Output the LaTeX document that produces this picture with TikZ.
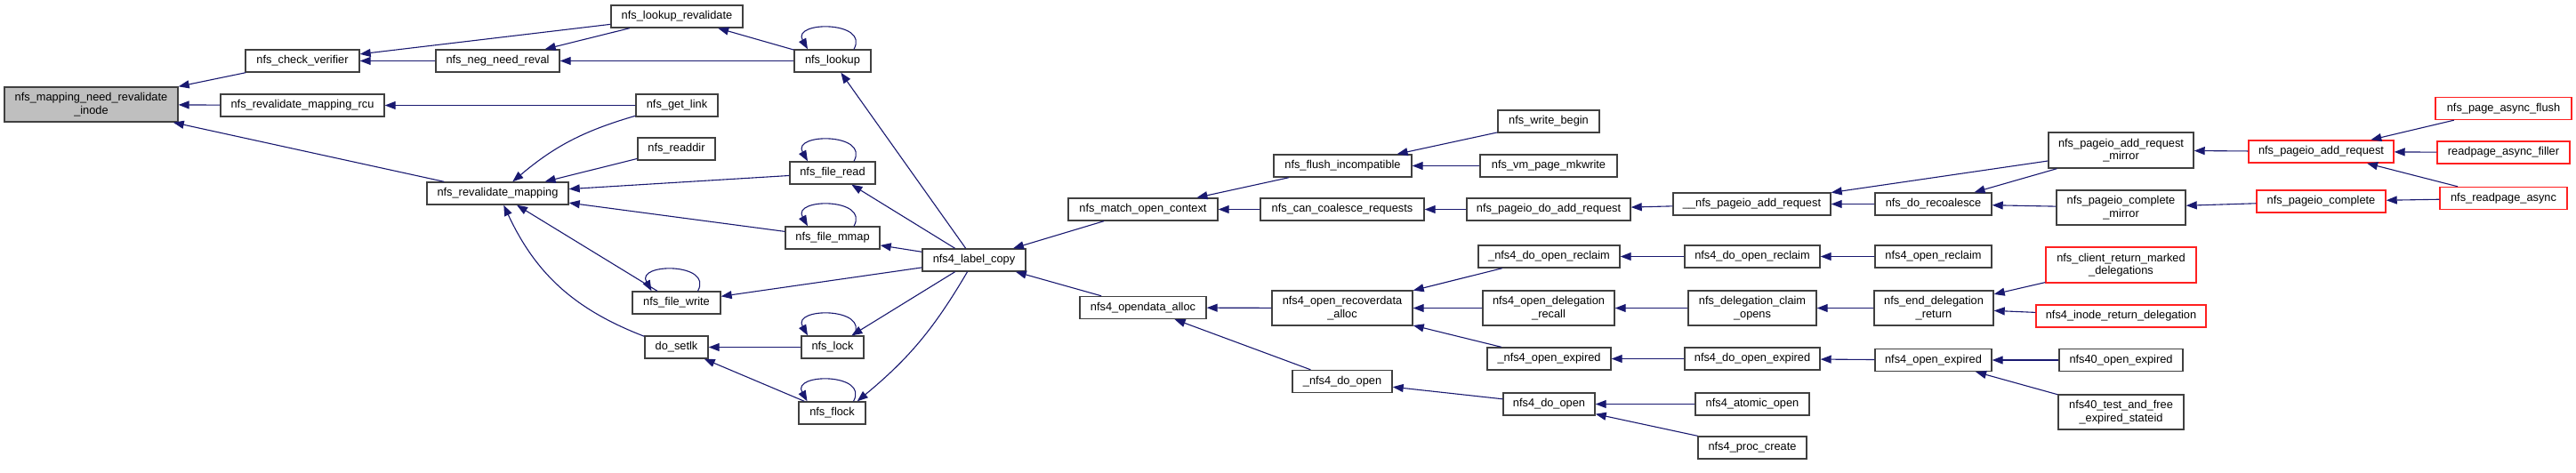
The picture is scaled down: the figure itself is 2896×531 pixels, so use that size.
\documentclass[tikz,border=0pt]{standalone}
\usepackage{fontspec}
\setmainfont{Liberation Sans}
\usetikzlibrary{arrows.meta}
\definecolor{bordgris}{HTML}{404040}
\definecolor{fleche}{HTML}{191970}
\definecolor{racine}{HTML}{BFBFBF}
\definecolor{rouge}{HTML}{FF2020}

\begin{document}
\begin{tikzpicture}[x=1pt, y=-1pt, >={Triangle[length=12pt,width=9pt]},
    fn/.style={draw=bordgris, line width=1.4pt, fill=white, inner sep=0pt,
      minimum height=25pt, align=center, font=\fontsize{12.8}{14.4}\selectfont},
    fn2/.style={fn, minimum height=39pt},
    fnr/.style={fn, draw=rouge},
    appel/.style={->, draw=fleche, line width=1.1pt}]
        \useasboundingbox (0,0) rectangle (2896,531);

        % -- Colonne 0 : la fonction appelée --
        \node[fn2, fill=racine, minimum width=195pt] (mni) at (102.5,117.5) {nfs\_mapping\_need\_revalidate\\\_inode};

        % -- Colonne 1 --
        \node[fn, minimum width=128pt] (ncv) at (340,68.5) {nfs\_check\_verifier};
        \node[fn, minimum width=184pt] (nrmr) at (340,118.5) {nfs\_revalidate\_mapping\_rcu};

        % -- Colonne 2 --
        \node[fn, minimum width=139pt] (nnr) at (559.5,68.5) {nfs\_neg\_need\_reval};
        \node[fn, minimum width=159pt] (nrm) at (559.5,217.5) {nfs\_revalidate\_mapping};

        % -- Colonne 3 --
        \node[fn, minimum width=148pt] (nlr) at (761,18.5) {nfs\_lookup\_revalidate};
        \node[fn, minimum width=92pt] (ngl) at (761,118.5) {nfs\_get\_link};
        \node[fn, minimum width=87pt] (nrd) at (760.5,167.5) {nfs\_readdir};
        \node[fn, minimum width=99pt] (nfw) at (760.5,340.5) {nfs\_file\_write};
        \node[fn, minimum width=71pt] (dsl) at (760.5,390.5) {do\_setlk};

        % -- Colonne 4 --
        \node[fn, minimum width=86pt] (nlk) at (936,68.5) {nfs\_lookup};
        \node[fn, minimum width=96pt] (nfr) at (936,194.5) {nfs\_file\_read};
        \node[fn, minimum width=106pt] (nfm) at (936,267.5) {nfs\_file\_mmap};
        \node[fn, minimum width=70pt] (nlc) at (936,390.5) {nfs\_lock};
        \node[fn, minimum width=75pt] (nfl) at (935.5,464.5) {nfs\_flock};

        % -- Colonne 5 et 6 --
        \node[fn, minimum width=116pt] (nlcp) at (1095,292.5) {nfs4\_label\_copy};
        \node[fn, minimum width=168pt] (nmoc) at (1285,235.5) {nfs\_match\_open\_context};
        \node[fn, minimum width=142pt] (noa) at (1285,346) {nfs4\_opendata\_alloc};

        % -- Colonne 7 --
        \node[fn, minimum width=155pt] (nfi) at (1509.5,186.5) {nfs\_flush\_incompatible};
        \node[fn, minimum width=184pt] (nccr) at (1509,235.5) {nfs\_can\_coalesce\_requests};
        \node[fn2, minimum width=158pt] (nora) at (1509,346.5) {nfs4\_open\_recoverdata\\\_alloc};
        \node[fn, minimum width=112pt] (undo) at (1509,429) {\_nfs4\_do\_open};

        % -- Colonne 8 --
        \node[fn, minimum width=114pt] (nwb) at (1741,136.5) {nfs\_write\_begin};
        \node[fn, minimum width=154pt] (nvpm) at (1741,186.5) {nfs\_vm\_page\_mkwrite};
        \node[fn, minimum width=184pt] (npdar) at (1741,235.5) {nfs\_pageio\_do\_add\_request};
        \node[fn, minimum width=159pt] (ndoor) at (1741.5,288.5) {\_nfs4\_do\_open\_reclaim};
        \node[fn2, minimum width=148pt] (nodr) at (1741,346.5) {nfs4\_open\_delegation\\\_recall};
        \node[fn, minimum width=139pt] (unoe) at (1741.5,403.5) {\_nfs4\_open\_expired};
        \node[fn, minimum width=103pt] (ndo) at (1741.5,454.5) {nfs4\_do\_open};

        % -- Colonne 9 --
        \node[fn, minimum width=177pt] (unpar) at (1969.5,229.5) {\_\_nfs\_pageio\_add\_request};
        \node[fn, minimum width=152pt] (ndor) at (1970,288.5) {nfs4\_do\_open\_reclaim};
        \node[fn2, minimum width=144pt] (ndco) at (1970,346.5) {nfs\_delegation\_claim\\\_opens};
        \node[fn, minimum width=152pt] (ndoe) at (1970,403.5) {nfs4\_do\_open\_expired};
        \node[fn, minimum width=128pt] (nao) at (1970,454.5) {nfs4\_atomic\_open};
        \node[fn, minimum width=122pt] (npc) at (1970,503.5) {nfs4\_proc\_create};

        % -- Colonne 10 --
        \node[fn, minimum width=131pt] (ndr) at (2173.5,229.5) {nfs\_do\_recoalesce};
        \node[fn, minimum width=131pt] (nor) at (2173.5,288.5) {nfs4\_open\_reclaim};
        \node[fn2, minimum width=134pt] (nedr) at (2174,346.5) {nfs\_end\_delegation\\\_return};
        \node[fn, minimum width=131pt] (noe) at (2173.5,405) {nfs4\_open\_expired};

        % -- Colonne 11 --
        \node[fn, minimum height=40pt, minimum width=163pt] (nparm) at (2384.5,169) {nfs\_pageio\_add\_request\\\_mirror};
        \node[fn2, minimum width=145pt] (npcm) at (2384.5,233.5) {nfs\_pageio\_complete\\\_mirror};
        \node[fnr, minimum height=40pt, minimum width=169pt] (ncrmd) at (2384.5,298) {nfs\_client\_return\_marked\\\_delegations};
        \node[fnr, minimum width=191pt] (nird) at (2384.5,355.5) {nfs4\_inode\_return\_delegation};
        \node[fn, minimum width=139pt] (n40oe) at (2384.5,405) {nfs40\_open\_expired};
        \node[fn2, minimum width=141pt] (n40tf) at (2384.5,463.5) {nfs40\_test\_and\_free\\\_expired\_stateid};

        % -- Colonnes 12 et 13 (rouges) --
        \node[fnr, minimum width=163pt] (npar) at (2609.5,170.5) {nfs\_pageio\_add\_request};
        \node[fnr, minimum width=145pt] (npco) at (2609.5,226.5) {nfs\_pageio\_complete};
        \node[fnr, minimum width=153pt] (npaf) at (2814.5,122) {nfs\_page\_async\_flush};
        \node[fnr, minimum width=149pt] (raf) at (2814.5,171.5) {readpage\_async\_filler};
        \node[fnr, minimum width=143pt] (nra) at (2814.5,223) {nfs\_readpage\_async};

        % Appels vers la racine
        \draw[appel] (ncv) -- (mni);
        \draw[appel] (nrmr) -- (mni);
        \draw[appel] (nrm) -- (mni);

        % Branche lookup
        \draw[appel] (nlr) -- (ncv);
        \draw[appel] (nnr) -- (ncv);
        \draw[appel] (nlr) -- (nnr);
        \draw[appel] (nlk) -- (nnr);
        \draw[appel] (nlk) -- (nlr);

        % Branche revalidate_mapping
        \draw[appel] (ngl) -- (nrmr);
        \draw[appel] (ngl) to[bend right=12] (nrm);
        \draw[appel] (nrd) -- (nrm);
        \draw[appel] (nfr) -- (nrm);
        \draw[appel] (nfm) -- (nrm);
        \draw[appel] (nfw) -- (nrm);
        \draw[appel] (dsl) to[bend left=22] (nrm);
        \draw[appel] (nlc) -- (dsl);
        \draw[appel] (nfl) -- (dsl);

        % Boucles (appels récursifs)
        \foreach \n in {nlk,nfr,nfm,nlc,nfl,nfw}
            \draw[appel] ([xshift=24pt]\n.north) .. controls +(18,-32) and +(-18,-32) .. ([xshift=-28pt]\n.north);

        % nfs4_label_copy
        \draw[appel] (nlcp) -- (nlk);
        \draw[appel] (nlcp) -- (nfr);
        \draw[appel] (nlcp) -- (nfm);
        \draw[appel] (nlcp) -- (nfw);
        \draw[appel] (nlcp) -- (nlc);
        \draw[appel] (nlcp) to[bend left=10] ([xshift=-10pt]nfl.north east);
        \draw[appel] (nmoc) -- (nlcp);
        \draw[appel] (noa) -- (nlcp);

        % Chemin pageio
        \draw[appel] (nfi) -- (nmoc);
        \draw[appel] (nccr) -- (nmoc);
        \draw[appel] (nwb) -- (nfi);
        \draw[appel] (nvpm) -- (nfi);
        \draw[appel] (npdar) -- (nccr);
        \draw[appel] (unpar) -- (npdar);
        \draw[appel] (nparm) -- (unpar);
        \draw[appel] (ndr) -- (unpar);
        \draw[appel] (nparm) -- (ndr);
        \draw[appel] (npcm) -- (ndr);
        \draw[appel] (npar) -- (nparm);
        \draw[appel] (npco) -- (npcm);
        \draw[appel] (npaf) -- (npar);
        \draw[appel] (raf) -- (npar);
        \draw[appel] (nra) -- (npar);
        \draw[appel] (nra) -- (npco);

        % Chemin opendata / délégations
        \draw[appel] (nora) -- (noa);
        \draw[appel] (undo) -- (noa);
        \draw[appel] (ndoor) -- (nora);
        \draw[appel] (nodr) -- (nora);
        \draw[appel] (unoe) -- (nora);
        \draw[appel] (ndo) -- (undo);
        \draw[appel] (nao) -- (ndo);
        \draw[appel] (npc) -- (ndo);
        \draw[appel] (ndor) -- (ndoor);
        \draw[appel] (ndco) -- (nodr);
        \draw[appel] (ndoe) -- (unoe);
        \draw[appel] (nor) -- (ndor);
        \draw[appel] (nedr) -- (ndco);
        \draw[appel] (noe) -- (ndoe);
        \draw[appel] (ncrmd) -- (nedr);
        \draw[appel] (nird) -- (nedr);
        \draw[appel] (n40oe) -- (noe);
        \draw[appel] (n40tf) -- (noe);
    \end{tikzpicture}
\end{document}
